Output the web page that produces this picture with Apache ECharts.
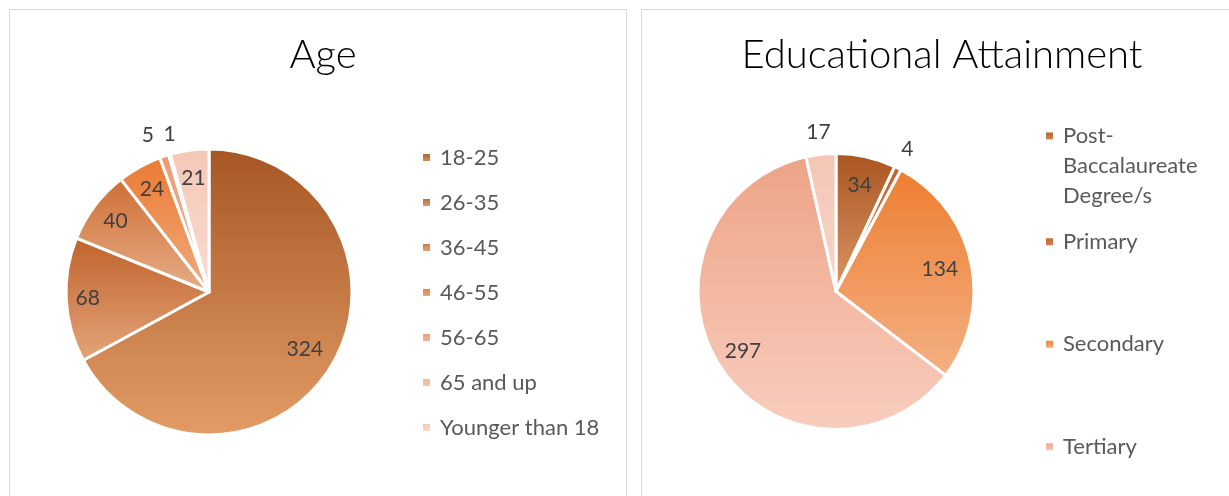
<!DOCTYPE html>
<html>
<head>
<meta charset="utf-8">
<script src="https://cdn.jsdelivr.net/npm/echarts@6/dist/echarts.min.js"></script>
<style>
html,body{margin:0;padding:0;background:#fff;}
#c{width:1229px;height:496px;}
</style>
</head>
<body>
<div id="c"></div>
<script>
// ---- data ----
const ageCategories = ['18-25', '26-35', '36-45', '46-55', '56-65', '65 and up', 'Younger than 18'];
const ageValues = [324, 68, 40, 24, 5, 1, 21];
const eduCategories = ['Post-Baccalaureate Degree/s', 'Primary', 'Secondary', 'Tertiary', 'Vocational'];
const eduValues = [34, 4, 134, 297, 17];
const eduLegendShown = ['Post-Baccalaureate Degree/s', 'Primary', 'Secondary', 'Tertiary'];
const titles = ['Age', 'Educational Attainment'];

// ---- styles ----
const ageGrad = [['#a65723', '#e39c66'], ['#c0622b', '#e4a57a'], ['#cf6e34', '#e6ae88'], ['#ea7a33', '#f2ab7f'],
  ['#ee9a72', '#f3b89c'], ['#f2b39b', '#f6c9b8'], ['#f5c6b6', '#f9ddd3']];
const eduGrad = [['#aa5520', '#d99767'], ['#c0622b', '#d88552'], ['#ed7d31', '#f4b183'], ['#eda386', '#f8cdbe'], ['#f4c5b5', '#f8d6cb']];
const ageLabelDist = [0.78, 0.85, 0.82, 0.82, 1.18, 1.14, 0.80];
const ageLabelTurn = [0, 0, 0, 0, -3, 2, 0];
const eduLabelDist = [0.79, 1.15, 0.77, 0.80, 1.16];
const eduLabelTurn = [0, 0, 0, 0, 0];

const FONT = 'Lato, "Open Sans", sans-serif';
const pies = [
  {cx: 209, cy: 292, r: 143, values: ageValues, dist: ageLabelDist, turn: ageLabelTurn},
  {cx: 836, cy: 291.5, r: 138, values: eduValues, dist: eduLabelDist, turn: eduLabelTurn}
];

function grad(c) {
  return new echarts.graphic.LinearGradient(0, 0, 0, 1, [{offset: 0, color: c[0]}, {offset: 1, color: c[1]}]);
}
function makeData(cats, vals, g) {
  return cats.map((n, i) => ({name: n, value: vals[i], itemStyle: {color: grad(g[i])}}));
}
function labelPos(si, di) {
  const p = pies[si];
  const total = p.values.reduce((a, b) => a + b, 0);
  let cum = 0;
  for (let i = 0; i < di; i++) cum += p.values[i];
  const mid = (cum + p.values[di] / 2) / total * 360 + p.turn[di];
  const a = mid * Math.PI / 180;
  const d = p.r * p.dist[di];
  return {x: p.cx + d * Math.sin(a), y: p.cy - d * Math.cos(a)};
}

const chart = echarts.init(document.getElementById('c'), null, {renderer: 'canvas'});

const labelCommon = {
  show: true, position: 'inside', color: '#404040', fontSize: 21, fontFamily: FONT,
  formatter: '{c}'
};
const legendText = {color: '#595959', fontSize: 22, fontFamily: FONT, lineHeight: 30, padding: [0, 0, 0, 4]};
const titleStyle = {fontFamily: FONT, fontWeight: 300, fontSize: 40, color: '#000000'};

const option = {
  animation: false,
  backgroundColor: '#ffffff',
  graphic: [
    {type: 'rect', shape: {x: 9.5, y: 9.5, width: 617, height: 500}, style: {fill: 'none', stroke: '#d9d9d9', lineWidth: 1}, silent: true},
    {type: 'rect', shape: {x: 641.5, y: 9.5, width: 600, height: 500}, style: {fill: 'none', stroke: '#d9d9d9', lineWidth: 1}, silent: true}
  ],
  title: [
    {text: titles[0], left: 318, top: 30, textAlign: 'center', textStyle: titleStyle},
    {text: titles[1], left: 937, top: 30, textAlign: 'center', textStyle: titleStyle}
  ],
  legend: [
    {orient: 'vertical', left: 421, top: 142.5, padding: 0, itemWidth: 9, itemHeight: 9, itemGap: 15,
      icon: 'rect', data: ageCategories, textStyle: legendText, selectedMode: false},
    {orient: 'vertical', left: 1044, top: 61, padding: 0, itemWidth: 9, itemHeight: 9, itemGap: 0,
      icon: 'rect', data: [eduLegendShown[0]], selectedMode: false,
      formatter: n => '\n\n' + n.replace('Post-', 'Post-\n').replace(' ', '\n'),
      textStyle: legendText},
    {orient: 'vertical', left: 1044, top: 226.7, padding: 0, itemWidth: 9, itemHeight: 9, itemGap: 72.5,
      icon: 'rect', data: eduLegendShown.slice(1), textStyle: legendText, selectedMode: false}
  ],
  series: [
    {type: 'pie', center: [pies[0].cx, pies[0].cy], radius: pies[0].r, startAngle: 90, clockwise: true,
      avoidLabelOverlap: false, data: makeData(ageCategories, ageValues, ageGrad),
      itemStyle: {borderColor: '#ffffff', borderWidth: 3},
      label: labelCommon, labelLine: {show: false}, emphasis: {disabled: true},
      labelLayout: p => Object.assign(labelPos(0, p.dataIndex), {align: 'center', verticalAlign: 'middle'})},
    {type: 'pie', center: [pies[1].cx, pies[1].cy], radius: pies[1].r, startAngle: 90, clockwise: true,
      avoidLabelOverlap: false, data: makeData(eduCategories, eduValues, eduGrad),
      itemStyle: {borderColor: '#ffffff', borderWidth: 3},
      label: labelCommon, labelLine: {show: false}, emphasis: {disabled: true},
      labelLayout: p => Object.assign(labelPos(1, p.dataIndex), {align: 'center', verticalAlign: 'middle'})}
  ]
};
chart.setOption(option);
</script>
</body>
</html>
